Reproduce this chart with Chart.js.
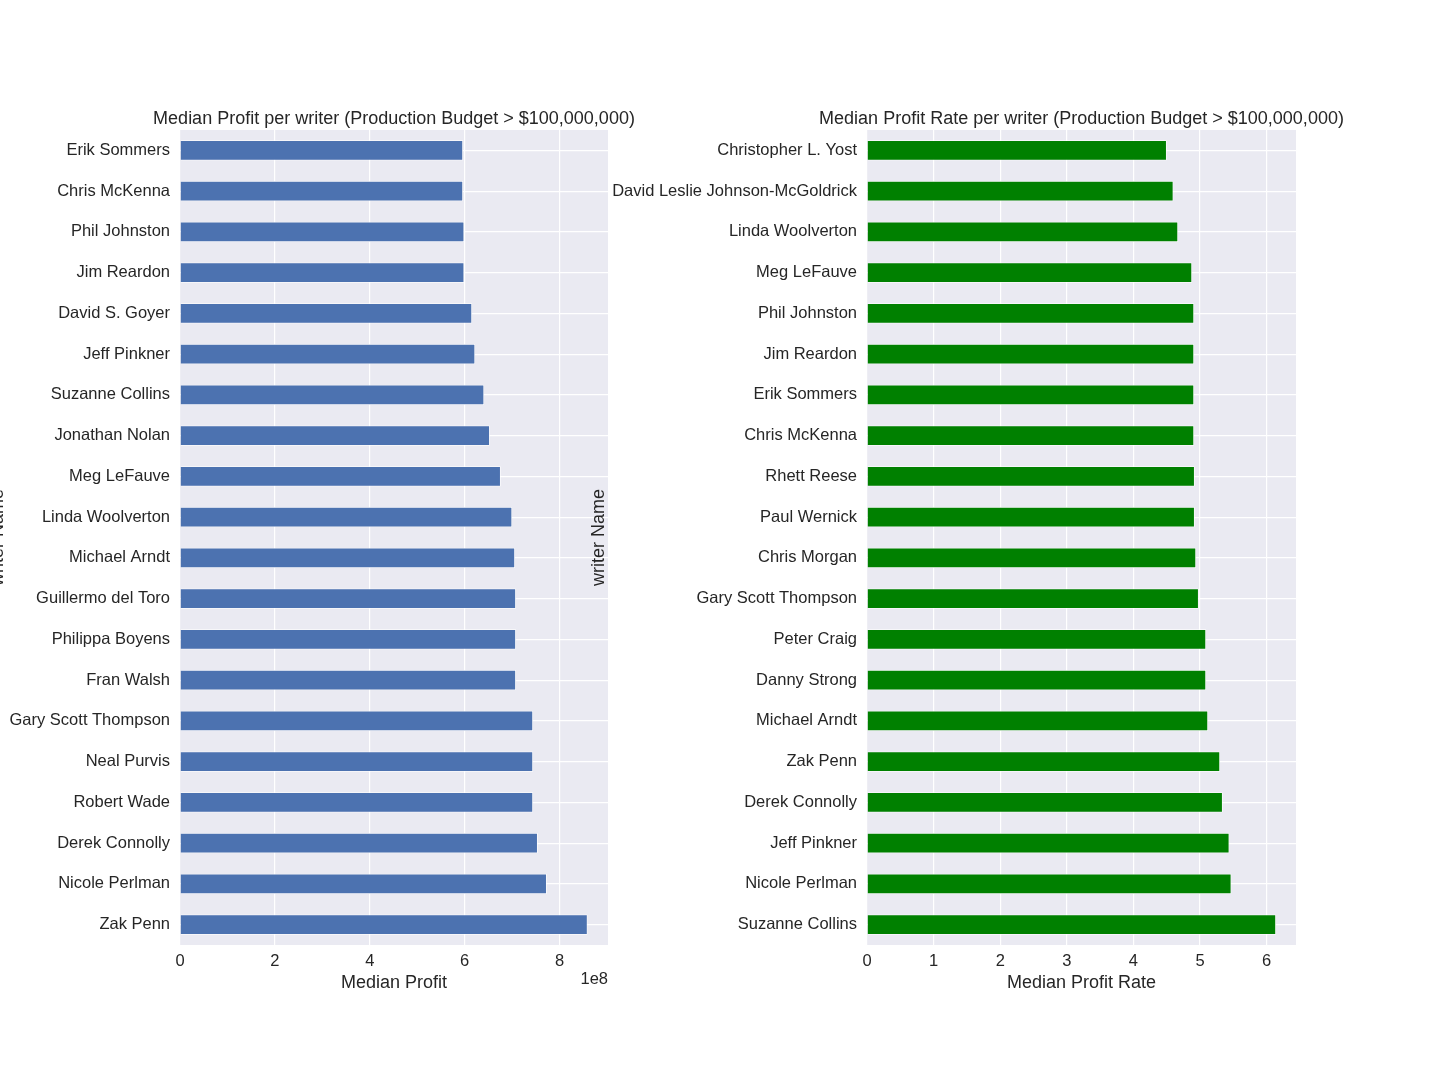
<!DOCTYPE html>
<html>
<head>
<meta charset="utf-8">
<script src="https://cdn.jsdelivr.net/npm/chart.js@4"></script>
<style>
  html, body { margin: 0; padding: 0; background: #fff; }
  #wrap { position: relative; width: 1440px; height: 1080px; overflow: hidden; }
  canvas { position: absolute; top: 0; }
</style>
</head>
<body>
<div id="wrap">
  <canvas id="profitChart" width="700" height="1080" style="left:0;width:700px;height:1080px"></canvas>
  <canvas id="rateChart" width="860" height="1080" style="left:580px;width:860px;height:1080px"></canvas>
</div>
<script>
const profitWriters = [
  "Erik Sommers", "Chris McKenna", "Phil Johnston", "Jim Reardon", "David S. Goyer",
  "Jeff Pinkner", "Suzanne Collins", "Jonathan Nolan", "Meg LeFauve", "Linda Woolverton",
  "Michael Arndt", "Guillermo del Toro", "Philippa Boyens", "Fran Walsh", "Gary Scott Thompson",
  "Neal Purvis", "Robert Wade", "Derek Connolly", "Nicole Perlman", "Zak Penn",
];
const medianProfit = [
  5.965e8, 5.965e8, 5.99e8, 5.99e8, 6.155e8,
  6.22e8, 6.41e8, 6.53e8, 6.76e8, 7.0e8,
  7.06e8, 7.08e8, 7.08e8, 7.08e8, 7.44e8,
  7.44e8, 7.44e8, 7.54e8, 7.73e8, 8.59e8,
];

const rateWriters = [
  "Christopher L. Yost", "David Leslie Johnson-McGoldrick", "Linda Woolverton", "Meg LeFauve", "Phil Johnston",
  "Jim Reardon", "Erik Sommers", "Chris McKenna", "Rhett Reese", "Paul Wernick",
  "Chris Morgan", "Gary Scott Thompson", "Peter Craig", "Danny Strong", "Michael Arndt",
  "Zak Penn", "Derek Connolly", "Jeff Pinkner", "Nicole Perlman", "Suzanne Collins",
];
const medianProfitRate = [
  4.50, 4.60, 4.67, 4.88, 4.91,
  4.91, 4.91, 4.91, 4.92, 4.92,
  4.94, 4.98, 5.09, 5.09, 5.12,
  5.30, 5.34, 5.44, 5.47, 6.14,
];

const FONT = "'Liberation Sans', Arial, sans-serif";
const TEXT = "#262626";

// draws the grey plot background, the panel title, the rotated y label and the offset text
const panelText = {
  id: "panelText",
  beforeDraw(chart, args, opts) {
    const { ctx, chartArea: a } = chart;
    ctx.save();
    ctx.fillStyle = "#EAEAF2";
    ctx.fillRect(a.left, a.top, a.right - a.left, a.bottom - a.top);
    ctx.restore();
  },
  afterDraw(chart, args, opts) {
    const { ctx, chartArea: a } = chart;
    ctx.save();
    ctx.fillStyle = TEXT;
    ctx.font = `18px ${FONT}`;
    ctx.textAlign = "center";
    ctx.textBaseline = "middle";
    ctx.fillText(opts.title, (a.left + a.right) / 2, a.top - 11);

    ctx.save();
    ctx.translate(opts.yLabelX, (a.top + a.bottom) / 2);
    ctx.rotate(-Math.PI / 2);
    ctx.textBaseline = "alphabetic";
    ctx.fillText("writer Name", 0, 0);
    ctx.restore();

    if (opts.offsetText) {
      ctx.font = `16.5px ${FONT}`;
      ctx.textAlign = "right";
      ctx.fillText(opts.offsetText, a.right, 979);
    }
    ctx.restore();
  },
};

function drawPanel(canvasId, labels, values, opts) {
  new Chart(document.getElementById(canvasId), {
    type: "bar",
    data: {
      labels,
      datasets: [{
        data: values,
        backgroundColor: opts.color,
        borderColor: "#ffffff",
        borderWidth: 0.8,
        barPercentage: 0.5,
        categoryPercentage: 1.0,
      }],
    },
    options: {
      indexAxis: "y",
      responsive: false,
      animation: false,
      layout: { padding: { top: 130, right: opts.padRight, left: 0, bottom: 0 } },
      plugins: {
        legend: { display: false },
        tooltip: { enabled: false },
        panelText: { title: opts.title, yLabelX: opts.yLabelX, offsetText: opts.offsetText },
      },
      scales: {
        x: {
          min: 0,
          max: opts.max,
          afterFit: (s) => { s.height = 135; },
          afterBuildTicks: (s) => {
            s.ticks = opts.ticks.map((v) => ({ value: v }));
          },
          ticks: {
            color: TEXT,
            font: { family: FONT, size: 16.5 },
            padding: 7,
            maxRotation: 0,
            callback: opts.tickFormat,
          },
          grid: { color: "#ffffff", lineWidth: 1.2, drawTicks: false },
          border: { display: false },
          title: {
            display: true,
            text: opts.xTitle,
            color: TEXT,
            font: { family: FONT, size: 18 },
            padding: { top: 0, bottom: 86 },
          },
        },
        y: {
          afterFit: (s) => { s.width = opts.yWidth; },
          ticks: {
            color: TEXT,
            font: { family: FONT, size: 16.5 },
            padding: 10,
            autoSkip: false,
          },
          grid: { color: "#ffffff", lineWidth: 1.2, drawTicks: false, offset: false },
          border: { display: false },
        },
      },
    },
    plugins: [panelText],
  });
}

drawPanel("profitChart", profitWriters, medianProfit, {
  color: "#4C72B0",
  title: "Median Profit per writer (Production Budget > $100,000,000)",
  xTitle: "Median Profit",
  max: 9.02e8,
  ticks: [0, 2e8, 4e8, 6e8, 8e8],
  tickFormat: (v) => String(Math.round(v / 1e8)),
  offsetText: "1e8",
  yWidth: 180,
  padRight: 92,
  yLabelX: 2.7,
});

drawPanel("rateChart", rateWriters, medianProfitRate, {
  color: "#008000",
  title: "Median Profit Rate per writer (Production Budget > $100,000,000)",
  xTitle: "Median Profit Rate",
  max: 6.44,
  ticks: [0, 1, 2, 3, 4, 5, 6],
  tickFormat: (v) => String(v),
  offsetText: "",
  yWidth: 287,
  padRight: 144,
  yLabelX: 24.3,
});
</script>
</body>
</html>
